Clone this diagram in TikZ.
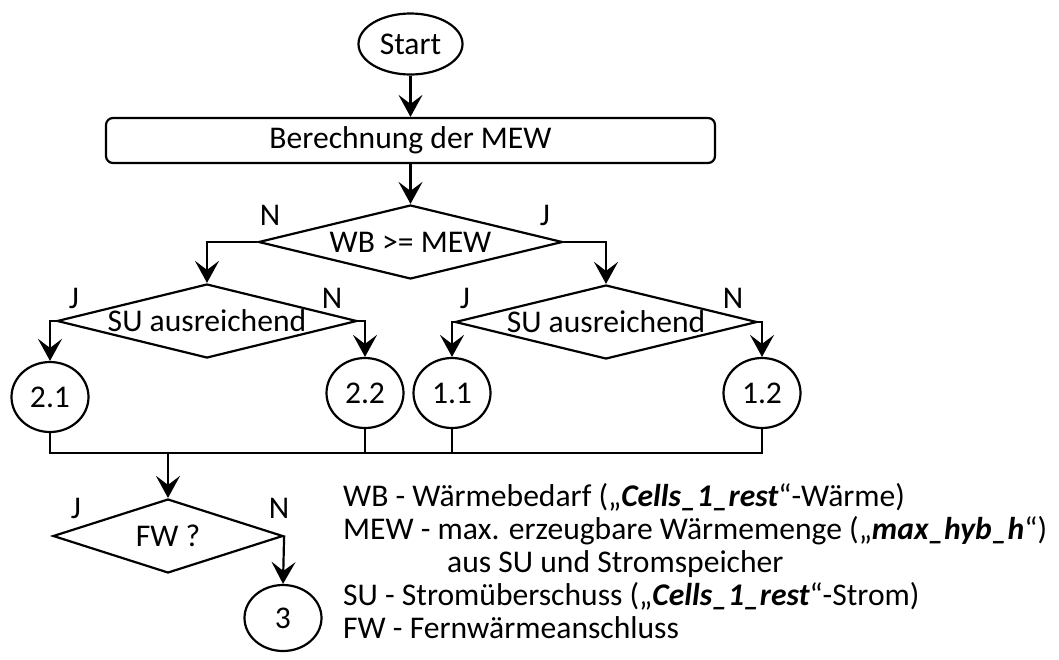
\documentclass[tikz,border=0pt]{standalone}
\usepackage{fontspec}
\setmainfont{Carlito}
\usetikzlibrary{shapes.geometric,arrows.meta}
\newcommand{\bi}[1]{{\bfseries\itshape #1}}
\begin{document}
\begin{tikzpicture}[x=1pt,y=-1pt,
  every node/.style={font=\fontsize{31.6}{33}\selectfont, text=black},
  conn/.style={draw=black, line width=2.2pt},
  arr/.style={conn, -{Stealth[length=22pt,width=24pt,inset=9pt]}},
  dia/.style={shape=diamond, conn, inner sep=0pt},
  oval/.style={shape=ellipse, conn, inner sep=0pt, minimum width=77pt, minimum height=70pt},
  lbl/.style={inner sep=0pt},
  leg/.style={anchor=base west, inner sep=0pt}
]
\useasboundingbox (0,0) rectangle (1059,659);

% process nodes
\node[oval, minimum width=104pt, minimum height=61pt] (start) at (410.5,44) {Start};
\node[rectangle, rounded corners=7pt, conn, minimum width=609pt, minimum height=45pt, inner sep=0pt] (calc) at (410.5,140.5) {Berechnung der MEW};

% decisions
\node[dia, minimum width=304pt, minimum height=74pt] (d1) at (410.5,242) {};
\node at (d1) {WB >= MEW};
\node[dia, minimum width=300pt, minimum height=74pt] (d2) at (207,321) {};
\node at (d2) {SU ausreichend};
\node[dia, minimum width=302pt, minimum height=74pt] (d3) at (606,322) {};
\node at (d3) {SU ausreichend};

% cases
\node[oval] (e21) at (50,397) {2.1};
\node[oval] (e22) at (365,393) {2.2};
\node[oval] (e11) at (452,393) {1.1};
\node[oval] (e12) at (762,393) {1.2};

\node[dia, minimum width=230pt, minimum height=74pt] (d4) at (168,536) {};
\node at (d4) {FW ?};
\node[oval, minimum height=66pt] (e3) at (283,618) {3};

\coordinate (bus) at (168,453);

% connectors
\draw[arr] (start) -- (calc);
\draw[arr] (calc) -- (d1);
\draw[arr] (d1.west) -| (d2.north);
\draw[arr] (d1.east) -| (d3.north);
\draw[arr] (d2.west) -| (e21.north);
\draw[arr] (d2.east) -| (e22.north);
\draw[arr] (d3.west) -| (e11.north);
\draw[arr] (d3.east) -| (e12.north);
\draw[conn] (e21.south) |- (bus) -- (bus -| e12.south) -- (e12.south);
\draw[conn] (e22.south) -- (e22.south |- bus);
\draw[conn] (e11.south) -- (e11.south |- bus);
\draw[arr] (bus) -- (d4.north);
\draw[arr] (d4.east) -- (e3.north);

% branch labels
\node[lbl] at (270,215) {N};
\node[lbl] at (545,215) {J};
\node[lbl] at (74,298) {J};
\node[lbl] at (332,298) {N};
\node[lbl] at (465,298) {J};
\node[lbl] at (733,298) {N};
\node[lbl] at (76,508) {J};
\node[lbl] at (279,508) {N};

% legend
\node[leg] (l1) at (343,506) {WB - Wärmebedarf („\bi{Cells\_1\_rest}“-Wärme)};
\node[leg] (l2) at (343,539) {MEW - max. erzeugbare Wärmemenge („\bi{max\_hyb\_h}“)};
\node[leg] (l3) at (447,572) {aus SU und Stromspeicher};
\node[leg] (l4) at (343,605) {SU - Stromüberschuss („\bi{Cells\_1\_rest}“-Strom)};
\node[leg] (l5) at (343,638) {FW - Fernwärmeanschluss};
\end{tikzpicture}
\end{document}
